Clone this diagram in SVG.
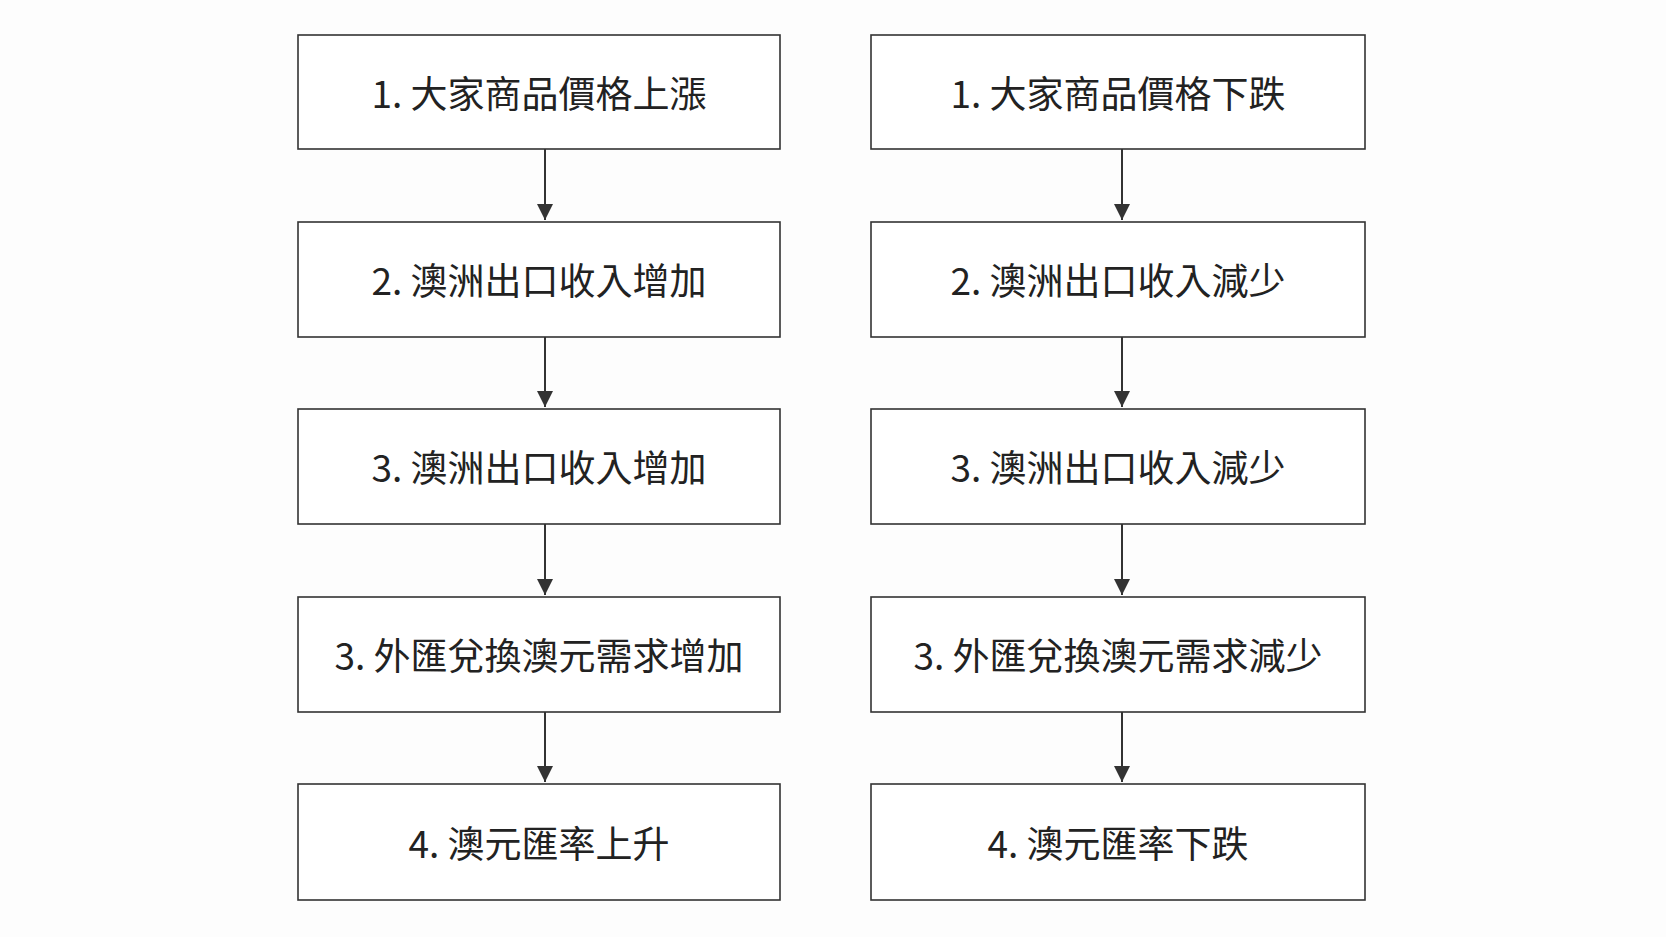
<svg xmlns="http://www.w3.org/2000/svg" width="1666" height="937" viewBox="0 0 1666 937">
<style>
.b{fill:#fff;stroke:#333;stroke-width:1.6}
.t{font-family:"Noto Sans CJK TC","Noto Sans",sans-serif;font-size:37px;fill:#222;text-anchor:middle;dominant-baseline:central}
.c{stroke:#333;stroke-width:2;fill:none;marker-end:url(#a)}
</style>
<defs><marker id="a" viewBox="0 0 10 10" refX="10" refY="5" markerWidth="16" markerHeight="20" markerUnits="userSpaceOnUse" orient="auto"><path d="M0,0L10,5L0,10z" fill="#333"/></marker></defs>
<rect width="1666" height="937" fill="#fdfdfd"/>
<g id="connectors">
<path class="c" d="M545,149V220"/><path class="c" d="M545,337V407"/><path class="c" d="M545,524V595"/><path class="c" d="M545,712V782"/>
<path class="c" d="M1122,149V220"/><path class="c" d="M1122,337V407"/><path class="c" d="M1122,524V595"/><path class="c" d="M1122,712V782"/>
</g>
<g id="L1"><rect class="b" x="298" y="35" width="482" height="114"/><text class="t" x="539" y="92">1. 大家商品價格上漲</text></g>
<g id="L2"><rect class="b" x="298" y="222" width="482" height="115"/><text class="t" x="539" y="279">2. 澳洲出口收入增加</text></g>
<g id="L3"><rect class="b" x="298" y="409" width="482" height="115"/><text class="t" x="539" y="466">3. 澳洲出口收入增加</text></g>
<g id="L4"><rect class="b" x="298" y="597" width="482" height="115"/><text class="t" x="539" y="654">3. 外匯兌換澳元需求增加</text></g>
<g id="L5"><rect class="b" x="298" y="784" width="482" height="116"/><text class="t" x="539" y="842">4. 澳元匯率上升</text></g>
<g id="R1"><rect class="b" x="871" y="35" width="494" height="114"/><text class="t" x="1118" y="92">1. 大家商品價格下跌</text></g>
<g id="R2"><rect class="b" x="871" y="222" width="494" height="115"/><text class="t" x="1118" y="279">2. 澳洲出口收入減少</text></g>
<g id="R3"><rect class="b" x="871" y="409" width="494" height="115"/><text class="t" x="1118" y="466">3. 澳洲出口收入減少</text></g>
<g id="R4"><rect class="b" x="871" y="597" width="494" height="115"/><text class="t" x="1118" y="654">3. 外匯兌換澳元需求減少</text></g>
<g id="R5"><rect class="b" x="871" y="784" width="494" height="116"/><text class="t" x="1118" y="842">4. 澳元匯率下跌</text></g>
</svg>
